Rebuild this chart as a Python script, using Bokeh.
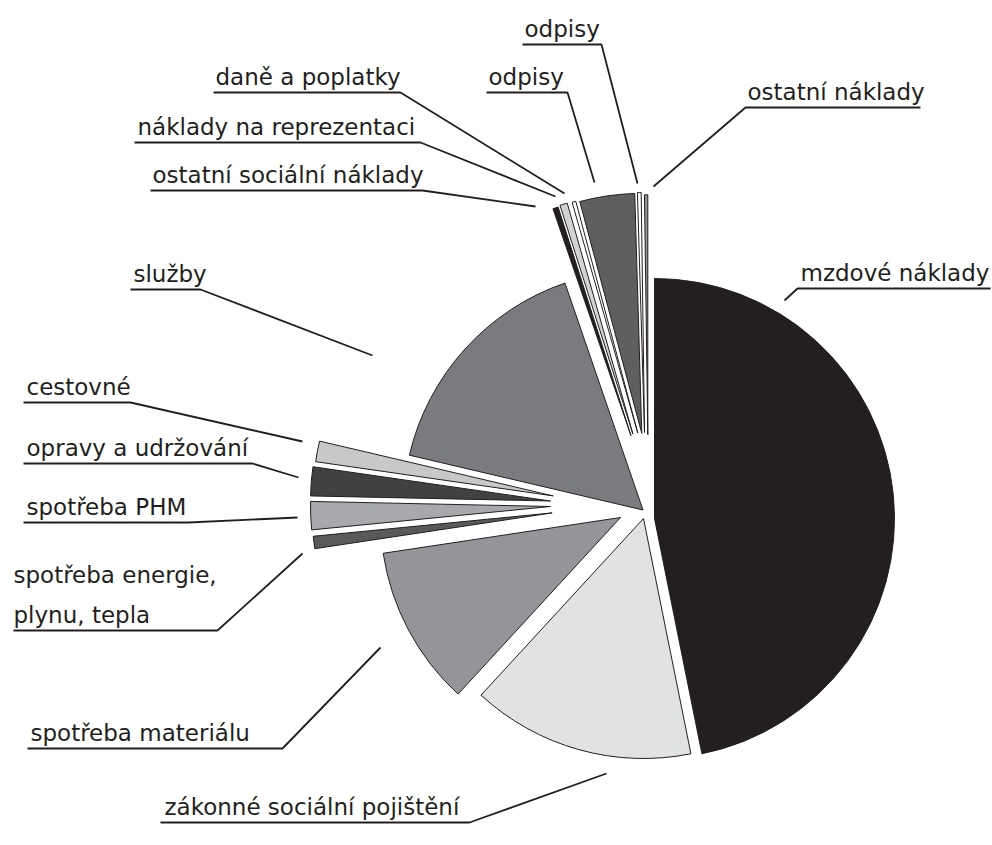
import math
from bokeh.plotting import figure
from bokeh.models import Range1d
from bokeh.core.properties import value
from bokeh.embed import file_html
from bokeh.resources import INLINE

# ---------------- data ----------------
categories = ["mzdové náklady", "zákonné sociální pojištění", "spotřeba materiálu",
              "spotřeba energie, plynu, tepla", "spotřeba PHM", "opravy a udržování",
              "cestovné", "služby", "ostatní sociální náklady", "náklady na reprezentaci",
              "daně a poplatky", "odpisy", "odpisy", "ostatní náklady"]
shares = [46.83, 15.00, 10.78, 0.83, 1.89, 1.94, 1.39, 16.06, 0.36, 0.50, 0.25, 3.69, 0.25, 0.22]
label_lines = [["mzdové náklady"], ["zákonné sociální pojištění"], ["spotřeba materiálu"],
               ["spotřeba energie,", "plynu, tepla"], ["spotřeba PHM"], ["opravy a udržování"],
               ["cestovné"], ["služby"], ["ostatní sociální náklady"], ["náklady na reprezentaci"],
               ["daně a poplatky"], ["odpisy"], ["odpisy"], ["ostatní náklady"]]

# ---------------- style / layout ----------------
colors = ["#231f20", "#e1e2e3", "#939598", "#58595b", "#a7a9ac", "#414042", "#c7c8ca",
          "#7a7b7e", "#231f20", "#d1d3d4", "#ffffff", "#5e5f61", "#ffffff", "#939598"]
# exploded-slice offsets in screen px (right, down)
explode_dx = [9, -2, -25, -93.4, -95, -95, -92.3, -2.5, -14.5, -12.6, -7.7, -3.7, -1, 2.3]
explode_dy = [1, 1, 0, -4.6, -11, -16.5, -21.6, -7.5, -81.8, -83.5, -84.4, -84.1, -85, -82.7]
CX, CY, R = 645, 517, 240
INK = "#231f20"
FONT = "DejaVu Sans"
FSIZE = "23px"
TEXT_DY = 8  # compensation for text baseline placement

# label layout: text x, baselines, underline x0,x1,y, leader end x,y, side of leader
lab_tx = [800, 164, 30, 13, 26, 26, 26, 133, 152, 137, 215, 488, 524, 747]
lab_base = [[280], [814], [740], [582, 622], [514], [455], [394], [281], [182], [134], [84], [84], [36], [99]]
ul_x0 = [797, 160, 27, 13, 23, 23, 23, 130, 150, 134, 213, 486, 522, 745]
ul_x1 = [990, 469, 282, 217, 188, 252, 130, 200, 422, 420, 400, 567, 601, 920]
ul_y = [288, 822, 748, 630, 522, 463, 402, 289, 190, 142, 92, 92, 44, 107]
ld_x = [784, 606, 380, 302, 297, 298, 302, 372, 535, 555, 564, 594, 637, 653]
ld_y = [300, 773, 647, 553, 517, 477, 441, 355, 206, 196, 193, 182, 183, 186]
ld_side = ["l", "r", "r", "r", "r", "r", "r", "r", "r", "r", "r", "r", "r", "l"]

W, H = 992, 845
p = figure(width=W, height=H, output_backend="svg", toolbar_location=None,
           x_range=Range1d(0, W), y_range=Range1d(-H, 0),
           min_border=0)
p.axis.visible = False
p.grid.visible = False
p.outline_line_color = None
p.background_fill_color = "white"
p.border_fill_color = "white"

total = sum(shares)
acc = 0.0
for i, s in enumerate(shares):
    a0 = acc / total * 360.0
    acc += s
    a1 = acc / total * 360.0
    x = CX + explode_dx[i]
    y = -(CY + explode_dy[i])
    p.wedge(x=[x], y=[y], radius=R, radius_units="screen",
            start_angle=math.radians(90 - a1), end_angle=math.radians(90 - a0),
            direction="anticlock", fill_color=colors[i],
            line_color=(colors[i] if i == 0 else INK), line_width=1)

for i in range(len(categories)):
    for line, by in zip(label_lines[i], lab_base[i]):
        p.text(x=[lab_tx[i]], y=[-(by - TEXT_DY)], text=[line], text_font=value(FONT),
               text_font_size=FSIZE, text_color=INK, text_align="left",
               text_baseline="alphabetic")
    if ld_side[i] == "r":
        xs = [ul_x0[i], ul_x1[i], ld_x[i]]
    else:
        xs = [ul_x1[i], ul_x0[i], ld_x[i]]
    ys = [-ul_y[i], -ul_y[i], -ld_y[i]]
    p.line(x=xs, y=ys, line_color=INK, line_width=1.8)

open("out.html", "w").write(file_html(p, INLINE))
